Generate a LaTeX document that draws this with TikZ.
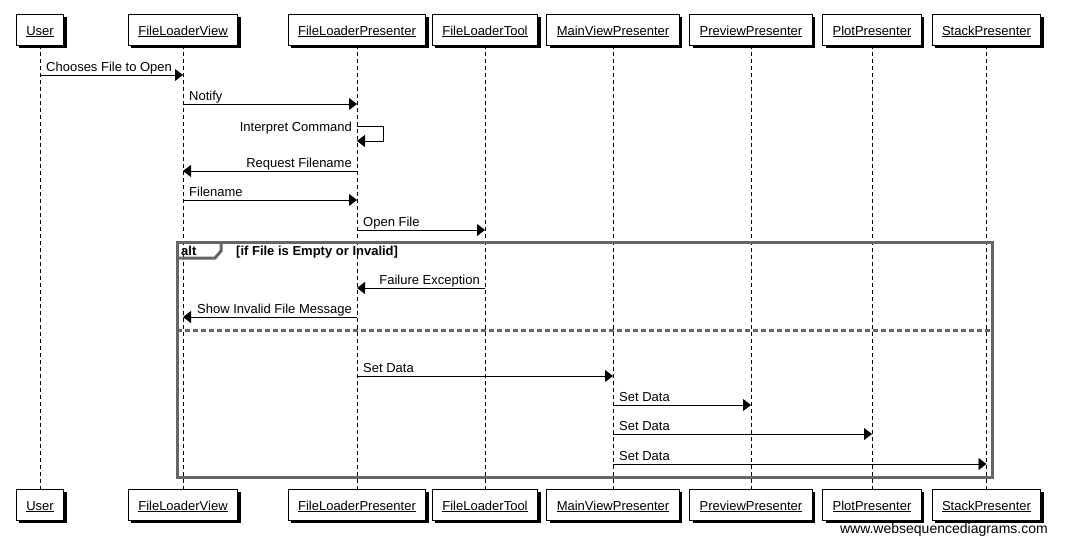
\documentclass[tikz,border=0pt]{standalone}
\usepackage{fontspec}
\setmainfont{Liberation Sans}
\usetikzlibrary{arrows.meta,shadows}
\newcommand{\pname}[1]{\underline{#1}}
\tikzset{
	part_box/.style = {rectangle, draw=black, fill=white, line width=0.9pt,
		minimum height=31pt, inner xsep=10pt, inner ysep=0pt,
		text height=13pt, text depth=2pt,
		font=\fontsize{13}{15}\selectfont,
		drop shadow={shadow xshift=3pt, shadow yshift=-3pt, fill=black, opacity=1}},
	life_ln/.style = {line width=0.9pt, dash pattern=on 4pt off 3pt},
	msg_ar/.style = {-{Triangle[length=8pt,width=12pt]}, line width=0.9pt},
	msg_r/.style = {anchor=base west, inner sep=0pt, xshift=6pt, yshift=4pt,
		font=\fontsize{13}{15}\selectfont},
	msg_l/.style = {anchor=base east, inner sep=0pt, xshift=-5pt, yshift=4pt,
		font=\fontsize{13}{15}\selectfont},
	alt_ln/.style = {draw=black!60, line width=3pt},
	alt_txt/.style = {anchor=base west, inner sep=0pt,
		font=\fontsize{13}{15}\selectfont\bfseries}
}

\begin{document}
\begin{tikzpicture}[x=1pt, y=-1pt]
\useasboundingbox (0,0) rectangle (1074,555);
% participants
\node [part_box] (usr) at (40,29.5) {\pname{User}};
\node [part_box] (flv) at (183,29.5) {\pname{FileLoaderView}};
\node [part_box] (flp) at (357,29.5) {\pname{FileLoaderPresenter}};
\node [part_box] (flt) at (485,29.5) {\pname{FileLoaderTool}};
\node [part_box] (mvp) at (613,29.5) {\pname{MainViewPresenter}};
\node [part_box] (pvp) at (751,29.5) {\pname{PreviewPresenter}};
\node [part_box] (plp) at (872,29.5) {\pname{PlotPresenter}};
\node [part_box] (stp) at (986.5,29.5) {\pname{StackPresenter}};
\node [part_box] (usr_b) at (40,504.5) {\pname{User}};
\node [part_box] (flv_b) at (183,504.5) {\pname{FileLoaderView}};
\node [part_box] (flp_b) at (357,504.5) {\pname{FileLoaderPresenter}};
\node [part_box] (flt_b) at (485,504.5) {\pname{FileLoaderTool}};
\node [part_box] (mvp_b) at (613,504.5) {\pname{MainViewPresenter}};
\node [part_box] (pvp_b) at (751,504.5) {\pname{PreviewPresenter}};
\node [part_box] (plp_b) at (872,504.5) {\pname{PlotPresenter}};
\node [part_box] (stp_b) at (986.5,504.5) {\pname{StackPresenter}};
% lifelines
\foreach \p in {usr,flv,flp,flt,mvp,pvp,plp,stp}
	\draw [life_ln] (\p.south) -- (\p_b.north);
% messages
\draw [msg_ar] (usr |- 0,75) -- (flv |- 0,75);
\node [msg_r] (m1) at (usr |- 0,75) {Chooses File to Open};
\draw [msg_ar] (flv |- 0,104) -- (flp |- 0,104);
\node [msg_r] (m2) at (flv |- 0,104) {Notify};
\coordinate (ic_a) at (383,126);
\coordinate (ic_b) at (383,141);
\draw [msg_ar] (flp |- 0,126) -- (ic_a) -- (ic_b) -- (flp |- 0,141);
\node [msg_l, yshift=-9pt] (m3) at (flp |- 0,126) {Interpret Command};
\draw [msg_ar] (flp |- 0,171) -- (flv |- 0,171);
\node [msg_l] (m4) at (flp |- 0,171) {Request Filename};
\draw [msg_ar] (flv |- 0,200) -- (flp |- 0,200);
\node [msg_r] (m5) at (flv |- 0,200) {Filename};
\draw [msg_ar] (flp |- 0,230) -- (flt |- 0,230);
\node [msg_r] (m6) at (flp |- 0,230) {Open File};
% alt frame
\draw [alt_ln] (177,242) rectangle (992,477);
\draw [alt_ln] (177,258) -- (215,258) -- (221,251) -- (221,242);
\node [alt_txt] (alt) at (181,255) {alt};
\node [alt_txt] (cond) at (236,255) {[if File is Empty or Invalid]};
\draw [msg_ar] (flt |- 0,288) -- (flp |- 0,288);
\node [msg_l] (m7) at (flt |- 0,288) {Failure Exception};
\draw [msg_ar] (flp |- 0,317) -- (flv |- 0,317);
\node [msg_l] (m8) at (flp |- 0,317) {Show Invalid File Message};
\draw [alt_ln, dash pattern=on 5pt off 3pt] (177,330) -- (992,330);
\draw [msg_ar] (flp |- 0,376) -- (mvp |- 0,376);
\node [msg_r] (m9) at (flp |- 0,376) {Set Data};
\draw [msg_ar] (mvp |- 0,405) -- (pvp |- 0,405);
\node [msg_r] (m10) at (mvp |- 0,405) {Set Data};
\draw [msg_ar] (mvp |- 0,434) -- (plp |- 0,434);
\node [msg_r] (m11) at (mvp |- 0,434) {Set Data};
\draw [msg_ar] (mvp |- 0,464) -- (stp |- 0,464);
\node [msg_r] (m12) at (mvp |- 0,464) {Set Data};
% footer
\node [anchor=base east, inner sep=0pt, font=\fontsize{14}{16}\selectfont] (site)
	at (1048,533) {www.websequencediagrams.com};
\end{tikzpicture}
\end{document}
